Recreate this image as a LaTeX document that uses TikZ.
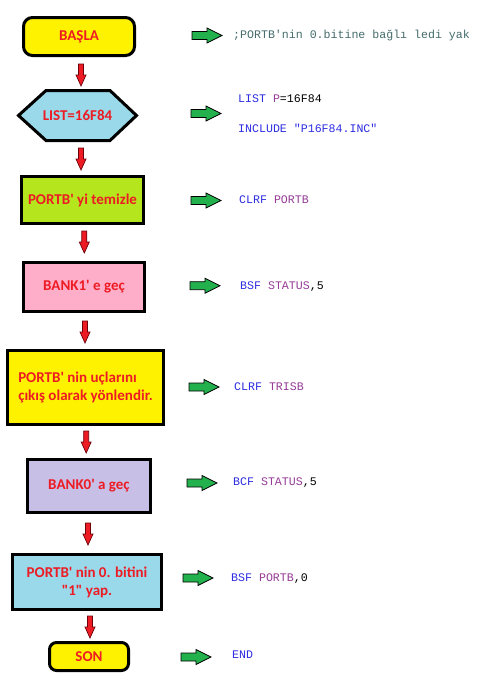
\documentclass[tikz,border=0pt]{standalone}
\usepackage{fontspec}
\setmonofont{Liberation Mono}
\newfontfamily\lblfont{Carlito}
\definecolor{txtred}{HTML}{ED1C24}
\definecolor{arrred}{HTML}{ED1C24}
\definecolor{arrline}{RGB}{110,0,10}
\definecolor{arrgreen}{HTML}{22B14C}
\definecolor{fyellow}{HTML}{FFF200}
\definecolor{fblue}{HTML}{99D9EA}
\definecolor{flime}{HTML}{B5E61D}
\definecolor{fpink}{HTML}{FFAEC9}
\definecolor{flav}{HTML}{C8BFE7}
\definecolor{kw}{RGB}{45,45,225}
\definecolor{op}{RGB}{150,60,150}
\definecolor{cmt}{RGB}{70,108,108}
\tikzset{
  box/.style={draw=black, line width=3pt, outer sep=0pt, inner sep=2pt, line join=miter,
    text=txtred, font=\lblfont\bfseries\fontsize{15}{18}\selectfont},
  lbl/.style={text=txtred, font=\lblfont\bfseries\fontsize{15}{18}\selectfont, inner sep=0pt},
  redarrstyle/.style={draw=arrline, fill=arrred, line width=0.7pt, line join=miter},
  grnarrstyle/.style={draw=black, fill=arrgreen, line width=0.8pt, line join=miter},
  pics/redarrow/.style={code={
    \draw[redarrstyle] (-2.5,0) -- (2.5,0) -- (2.5,11) -- (5,11) -- (0,22) -- (-5,11) -- (-2.5,11) -- cycle;}},
  pics/grnarrow/.style={code={
    \draw[grnarrstyle] (0,-4) -- (15,-4) -- (15,-7.5) -- (30,0) -- (15,7.5) -- (15,4) -- (0,4) -- cycle;}},
  code/.style={anchor=west, inner sep=0pt, text height=6.6pt, text depth=0pt,
    font=\ttfamily\fontsize{11.6}{14}\selectfont},
}
\begin{document}
\begin{tikzpicture}[x=1pt,y=-1pt]
\useasboundingbox[fill=white] (0,0) rectangle (479,691);
% flowchart boxes
\node[box, fill=fyellow, rounded corners=9pt, minimum width=111pt, minimum height=38pt] (basla) at (79,36.5) {BAŞLA};
\draw[line width=3pt, line join=miter, fill=fblue] (18.5,115.5) -- (46,90.5) -- (110,90.5) -- (136.5,115.5) -- (110,140.5) -- (46,140.5) -- cycle;
\node[lbl] (list) at (77.5,115.5) {LIST=16F84};
\node[box, fill=flime, minimum width=122pt, minimum height=47pt] (temiz) at (82.5,200) {PORTB' yi temizle};
\node[box, fill=fpink, minimum width=121pt, minimum height=49pt] (bank1) at (84,287) {BANK1' e geç};
\node[box, fill=fyellow, minimum width=156pt, minimum height=74pt, align=left] (yon) at (85.5,387.5) {PORTB' nin uçlarını\\çıkış olarak yönlendir.};
\node[box, fill=flav, minimum width=123pt, minimum height=53pt] (bank0) at (89,486) {BANK0' a geç};
\node[box, fill=fblue, minimum width=149pt, minimum height=55pt, align=center] (bit) at (87,582) {PORTB' nin 0. bitini\\"1" yap.};
\node[box, fill=fyellow, rounded corners=7pt, minimum width=79pt, minimum height=28pt] (son) at (89,656.5) {SON};
% red arrows
\pic (r1) at (81,64) {redarrow};
\pic (r2) at (81,148) {redarrow};
\pic (r3) at (84.3,231) {redarrow};
\pic (r4) at (85,321) {redarrow};
\pic (r5) at (86.2,431) {redarrow};
\pic (r6) at (88,523) {redarrow};
\pic (r7) at (90,616) {redarrow};
% green arrows
\pic (g1) at (192,35.5) {grnarrow};
\pic (g2) at (191,113.5) {grnarrow};
\pic (g3) at (191,200.5) {grnarrow};
\pic (g4) at (190,285.7) {grnarrow};
\pic (g5) at (189,387) {grnarrow};
\pic (g6) at (187,483) {grnarrow};
\pic (g7) at (183,578) {grnarrow};
\pic (g8) at (181,657) {grnarrow};
% code
\node[code, text=cmt] (c1) at (233,35) {;PORTB'nin 0.bitine bağlı ledi yak};
\node[code] (c2a) at (238,99.5) {\textcolor{kw}{LIST} \textcolor{op}{P}=16F84};
\node[code] (c2b) at (238,129.5) {\textcolor{kw}{INCLUDE "P16F84.INC"}};
\node[code] (c3) at (239,200.5) {\textcolor{kw}{CLRF} \textcolor{op}{PORTB}};
\node[code] (c4) at (240,285.7) {\textcolor{kw}{BSF} \textcolor{op}{STATUS},5};
\node[code] (c5) at (234,387) {\textcolor{kw}{CLRF} \textcolor{op}{TRISB}};
\node[code] (c6) at (233,482.5) {\textcolor{kw}{BCF} \textcolor{op}{STATUS},5};
\node[code] (c7) at (231,578) {\textcolor{kw}{BSF} \textcolor{op}{PORTB},0};
\node[code] (c8) at (232,655.5) {\textcolor{kw}{END}};
\end{tikzpicture}
\end{document}
